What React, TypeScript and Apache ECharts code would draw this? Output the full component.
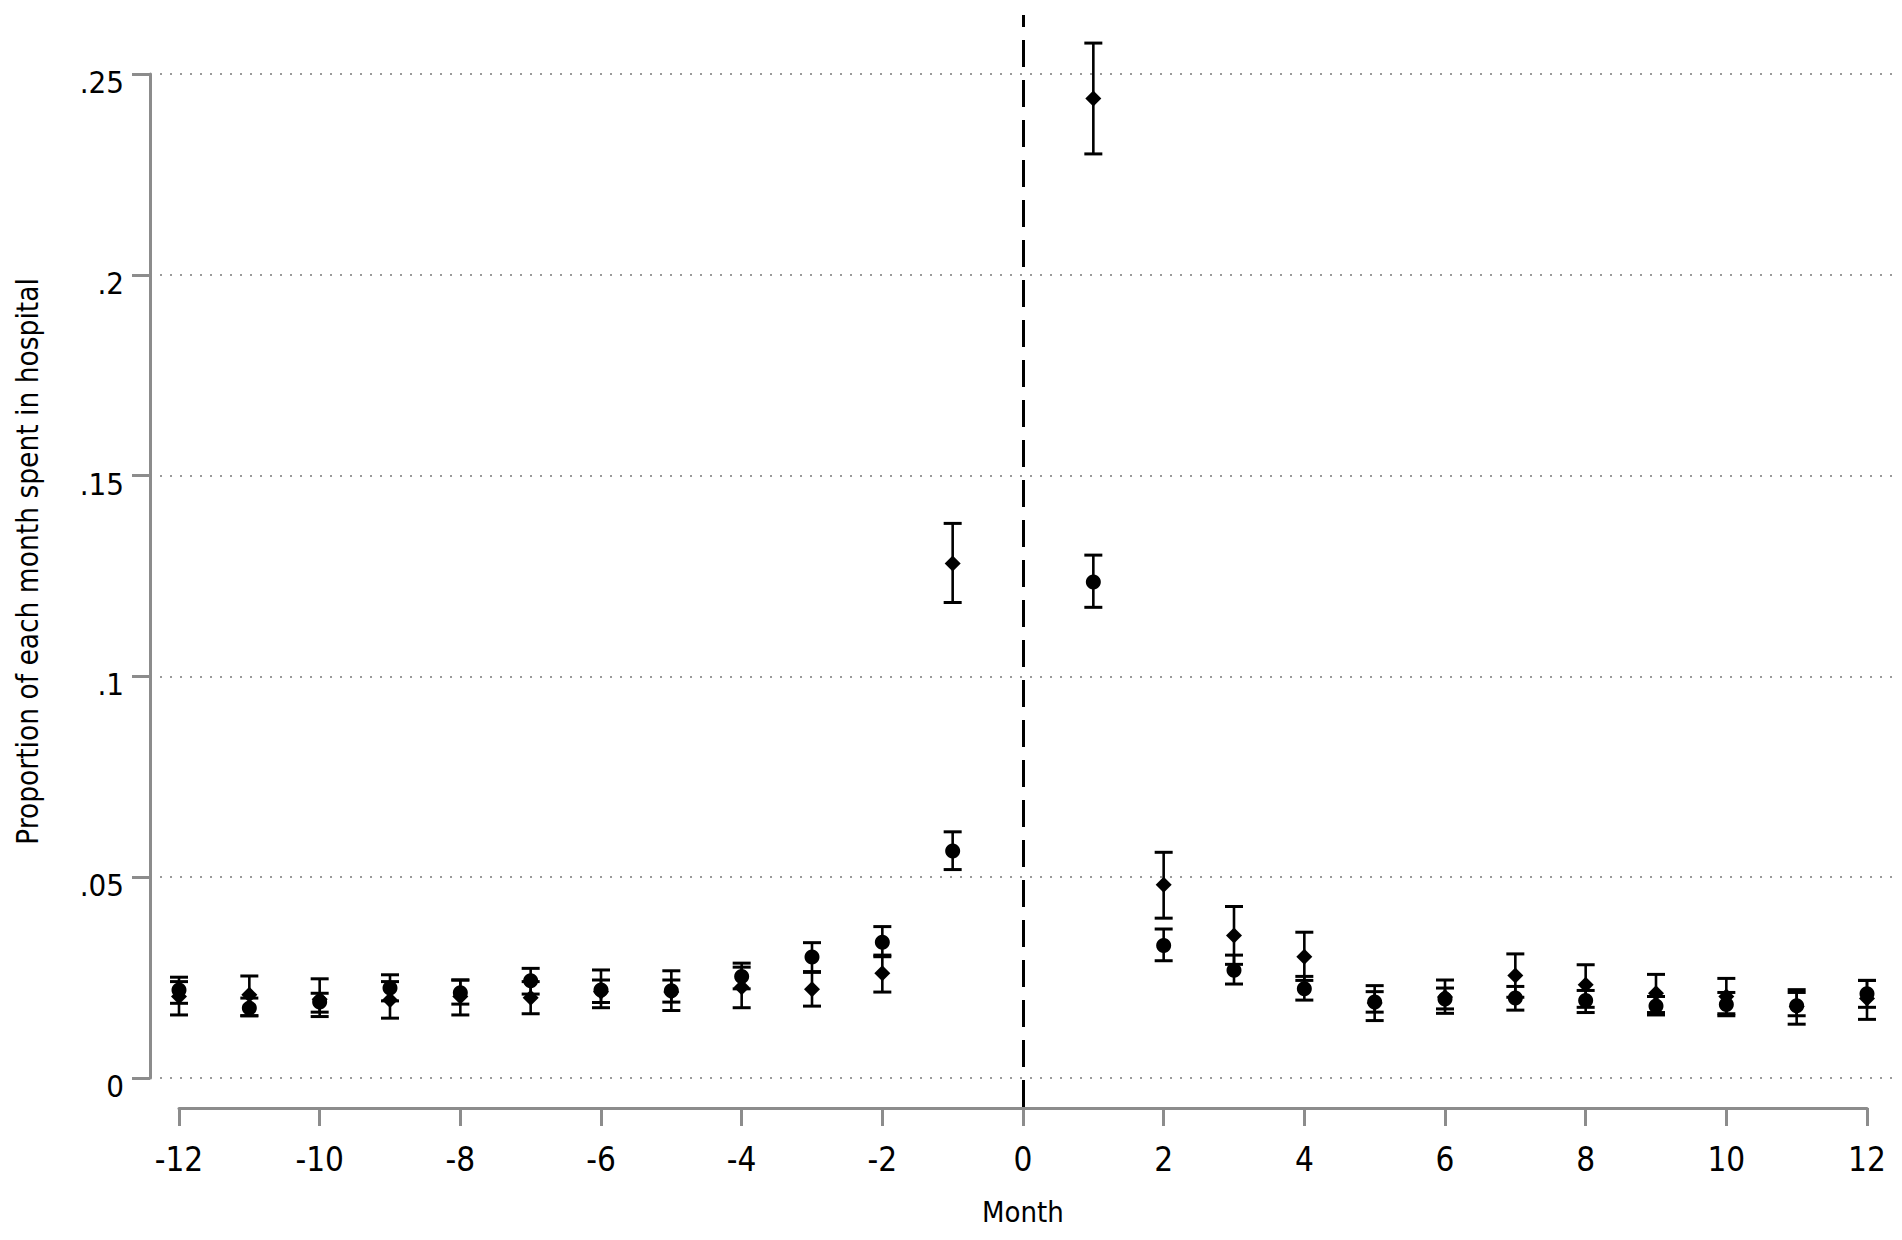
import React, { useEffect, useRef } from "react";
import * as echarts from "echarts";

// ---------- data ----------
const months = [-12, -11, -10, -9, -8, -7, -6, -5, -4, -3, -2, -1, 1, 2, 3, 4, 5, 6, 7, 8, 9, 10, 11, 12];

const circleMean = [0.0219, 0.0174, 0.0189, 0.0224, 0.0212, 0.0242, 0.0219, 0.0217, 0.0253, 0.0301, 0.0338, 0.0565,
  0.1235, 0.0330, 0.0268, 0.0222, 0.0189, 0.0197, 0.0199, 0.0193, 0.0179, 0.0183, 0.0180, 0.0210];
const circleLow = [0.0186, 0.0155, 0.0164, 0.0192, 0.0184, 0.0209, 0.0188, 0.0189, 0.0222, 0.0265, 0.0302, 0.0519,
  0.1172, 0.0292, 0.0234, 0.0194, 0.0164, 0.0172, 0.0169, 0.0163, 0.0157, 0.0155, 0.0155, 0.0176];
const circleHigh = [0.0251, 0.0199, 0.0211, 0.0257, 0.0244, 0.0273, 0.0244, 0.0244, 0.0286, 0.0337, 0.0377, 0.0613,
  0.1302, 0.0371, 0.0306, 0.0253, 0.0215, 0.0224, 0.0228, 0.0218, 0.0203, 0.0213, 0.0213, 0.0243];

const diamondMean = [0.0203, 0.0207, 0.0196, 0.0194, 0.0203, 0.0200, 0.0215, 0.0214, 0.0226, 0.0221, 0.0261, 0.1281,
  0.2439, 0.0481, 0.0355, 0.0302, 0.0187, 0.0202, 0.0255, 0.0232, 0.0211, 0.0203, 0.0178, 0.0198];
const diamondLow = [0.0157, 0.0155, 0.0153, 0.0149, 0.0157, 0.0160, 0.0175, 0.0168, 0.0175, 0.0179, 0.0214, 0.1184,
  0.2301, 0.0398, 0.0283, 0.0243, 0.0143, 0.0161, 0.0201, 0.0176, 0.0163, 0.0160, 0.0134, 0.0146];
const diamondHigh = [0.0240, 0.0254, 0.0247, 0.0240, 0.0244, 0.0240, 0.0269, 0.0267, 0.0276, 0.0263, 0.0306, 0.1381,
  0.2577, 0.0562, 0.0427, 0.0363, 0.0230, 0.0244, 0.0309, 0.0282, 0.0258, 0.0248, 0.0220, 0.0243];

const yTickValues = [0, 0.05, 0.1, 0.15, 0.2, 0.25];
const yTickLabels = ["0", ".05", ".1", ".15", ".2", ".25"];
const xMin = -12;
const xMax = 12;
const xInterval = 2;
const eventMonth = 0;

const yTitle = "Proportion of each month spent in hospital";
const xTitle = "Month";

// ---------- layout ----------
const W = 1902;
const H = 1240;
const frame = { left: 179, right: 35, top: 74, bottom: 162 };
const plot = { left: 160, right: 7, top: 15, bottom: 132 };

const FONT = '"DejaVu Sans Condensed", "Liberation Sans Narrow", "Liberation Sans", Arial, sans-serif';
const AXIS_GRAY = "#8c8c8c";

export default function App() {
  const ref = useRef<HTMLDivElement>(null);

  useEffect(() => {
    if (!ref.current) return;
    const chart = echarts.init(ref.current, null, { renderer: "svg" });

    const yMaxTick = yTickValues[yTickValues.length - 1];
    const pxPerX = (W - frame.left - frame.right) / (xMax - xMin);
    const pxPerY = (H - frame.top - frame.bottom) / (yMaxTick - 0);
    const xMinB = xMin - (frame.left - plot.left) / pxPerX;
    const xMaxB = xMax + (frame.right - plot.right) / pxPerX;
    const yMaxB = yMaxTick + (frame.top - plot.top) / pxPerY;
    const yMinB = 0 - (frame.bottom - plot.bottom) / pxPerY;

    const renderBar = (params: any, api: any) => {
      const x = api.value(0);
      const lo = api.value(1);
      const hi = api.value(2);
      const pLo = api.coord([x, lo]);
      const pHi = api.coord([x, hi]);
      const hw = 9;
      const capStyle = { stroke: "#000", lineWidth: 3 };
      return {
        type: "group",
        children: [
          { type: "line", shape: { x1: pLo[0], y1: pLo[1], x2: pHi[0], y2: pHi[1] }, style: { stroke: "#000", lineWidth: 2.6 } },
          { type: "line", shape: { x1: pHi[0] - hw, y1: pHi[1], x2: pHi[0] + hw, y2: pHi[1] }, style: capStyle },
          { type: "line", shape: { x1: pLo[0] - hw, y1: pLo[1], x2: pLo[0] + hw, y2: pLo[1] }, style: capStyle },
        ],
      };
    };

    const axisLineStyle = { color: AXIS_GRAY, width: 3 };

    const option: any = {
      animation: false,
      backgroundColor: "#fff",
      grid: [
        { left: frame.left, right: frame.right, top: frame.top, bottom: frame.bottom },
        { left: plot.left, right: plot.right, top: plot.top, bottom: plot.bottom },
      ],
      xAxis: [
        {
          gridIndex: 0,
          type: "value",
          min: xMin,
          max: xMax,
          interval: xInterval,
          offset: 30,
          axisLine: { show: true, onZero: false, lineStyle: axisLineStyle },
          axisTick: { show: true, length: 18, lineStyle: axisLineStyle },
          axisLabel: { fontSize: 33, lineHeight: 33, color: "#000", fontFamily: FONT, margin: 35 },
          splitLine: { show: false },
          name: xTitle,
          nameLocation: "middle",
          nameGap: 89,
          nameTextStyle: { fontSize: 29, lineHeight: 29, color: "#000", fontFamily: FONT },
        },
        {
          gridIndex: 1,
          type: "value",
          min: xMinB,
          max: xMaxB,
          show: false,
        },
      ],
      yAxis: [
        {
          gridIndex: 0,
          type: "value",
          min: 0,
          max: yMaxTick,
          interval: 0.05,
          offset: 29,
          axisLine: { show: true, onZero: false, lineStyle: axisLineStyle },
          axisTick: { show: true, length: 18, lineStyle: axisLineStyle },
          axisLabel: {
            fontSize: 31,
            color: "#000",
            fontFamily: FONT,
            margin: 26,
            verticalAlign: "top",
            lineHeight: 16,
            formatter: (v: number) => {
              const i = yTickValues.findIndex((t) => Math.abs(t - v) < 1e-9);
              return i >= 0 ? yTickLabels[i] : "";
            },
          },
          splitLine: { show: false },
        },
        {
          gridIndex: 1,
          type: "value",
          min: yMinB,
          max: yMaxB,
          axisLine: { show: false, onZero: false },
          axisTick: { show: false },
          axisLabel: { show: false },
          splitLine: { show: false },
          name: yTitle,
          nameLocation: "middle",
          nameGap: 117,
          nameTextStyle: { fontSize: 29.5, lineHeight: 30, color: "#000", fontFamily: FONT },
        },
      ],
      series: [
        {
          type: "line",
          xAxisIndex: 1,
          yAxisIndex: 1,
          data: [],
          z: 1,
          silent: true,
          markLine: {
            silent: true,
            symbol: ["none", "none"],
            label: { show: false },
            lineStyle: { color: "#9a9a9a", width: 2, type: [2, 8] },
            data: yTickValues.map((v) => ({ yAxis: v })),
          },
        },
        {
          type: "line",
          xAxisIndex: 1,
          yAxisIndex: 1,
          data: [],
          z: 2,
          silent: true,
          markLine: {
            silent: true,
            symbol: ["none", "none"],
            label: { show: false },
            lineStyle: { color: "#000", width: 3, type: [27, 13], dashOffset: 39 },
            data: [{ xAxis: eventMonth }],
          },
        },
        {
          type: "custom",
          xAxisIndex: 1,
          yAxisIndex: 1,
          z: 3,
          renderItem: renderBar,
          encode: { x: 0, y: [1, 2] },
          data: months.map((m, i) => [m, circleLow[i], circleHigh[i]]),
        },
        {
          type: "custom",
          xAxisIndex: 1,
          yAxisIndex: 1,
          z: 3,
          renderItem: renderBar,
          encode: { x: 0, y: [1, 2] },
          data: months.map((m, i) => [m, diamondLow[i], diamondHigh[i]]),
        },
        {
          type: "scatter",
          xAxisIndex: 1,
          yAxisIndex: 1,
          z: 4,
          symbol: "circle",
          symbolSize: 15,
          itemStyle: { color: "#000", opacity: 1 },
          data: months.map((m, i) => [m, circleMean[i]]),
        },
        {
          type: "scatter",
          xAxisIndex: 1,
          yAxisIndex: 1,
          z: 4,
          symbol: "diamond",
          symbolSize: 16,
          itemStyle: { color: "#000", opacity: 1 },
          data: months.map((m, i) => [m, diamondMean[i]]),
        },
      ],
    };

    chart.setOption(option);
    return () => chart.dispose();
  }, []);

  return (
    <div
      ref={ref}
      style={{ position: "absolute", left: 0, top: 0, width: W, height: H, background: "#fff" }}
    />
  );
}
